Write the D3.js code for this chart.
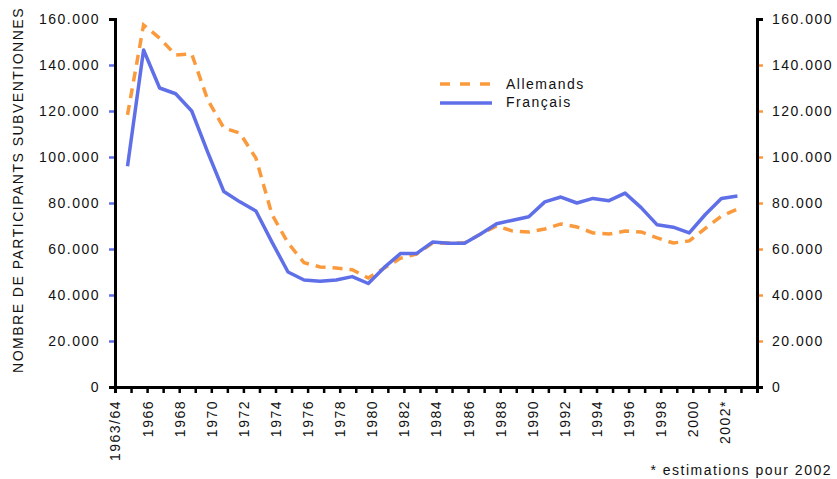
<!DOCTYPE html>
<html>
<head>
<meta charset="utf-8">
<script src="https://cdn.jsdelivr.net/npm/d3@7"></script>
<style>
  body { margin: 0; background: #fff; }
  text { font-family: "Liberation Sans", Arial, sans-serif; font-size: 14px; letter-spacing: 1.5px; fill: #111; }
</style>
</head>
<body>
<div class="canvas"></div>
<script>
// data: one value per year, 1963/64 .. 2002 (2002 = estimate)
const years = d3.range(1964, 2003);
const allemands = [118300, 157400, 151700, 144300, 144800, 124800, 112600, 110400, 99500, 75000,
    62600, 54000, 52200, 51700, 51000, 47400, 51700, 56000, 57800, 62600,
    62600, 62600, 66500, 70000, 67800, 67400, 68700, 70900, 69600, 67000,
    66500, 67800, 67400, 64800, 62600, 63500, 69000, 74300, 77400];
const francais = [96000, 146500, 130000, 127500, 120000, 102000, 85000, 80500, 76500, 63000,
    50000, 46500, 46000, 46500, 48000, 45000, 52000, 58000, 58000, 63000,
    62500, 62500, 66500, 71000, 72500, 74000, 80500, 82600, 80000, 82000,
    81000, 84300, 78000, 70500, 69500, 67000, 75000, 82000, 83000];
const xLabels = ['1963/64', '1966', '1968', '1970', '1972', '1974', '1976', '1978', '1980', '1982',
    '1984', '1986', '1988', '1990', '1992', '1994', '1996', '1998', '2000', '2002*'];
const yTicks = [0, 20000, 40000, 60000, 80000, 100000, 120000, 140000, 160000];

const blue = '#5f6fe8';
const orange = '#fb9a3c';

const svg = d3.select('.canvas')
    .append('svg')
        .attr('width', 837)
        .attr('height', 479);

const plot = {left: 115, right: 757, top: 19, bottom: 387};

// scales: one tick per year, points sit a bit right of their tick
const x = d3.scaleLinear().domain([0, 40]).range([plot.left, plot.right]);
const y = d3.scaleLinear().domain([0, 160000]).range([plot.bottom, plot.top]);
const offset = 0.78;

const fmt = d => d === 0 ? '0' : d3.format(',')(d).replace(/,/g, '.');

// axes
const yLeft = svg.append('g')
    .attr('transform', `translate(${plot.left}, 0)`)
    .call(d3.axisLeft(y).tickValues(yTicks).tickSize(6).tickPadding(9).tickFormat(fmt));
const yRight = svg.append('g')
    .attr('transform', `translate(${plot.right}, 0)`)
    .call(d3.axisRight(y).tickValues(yTicks).tickSize(6).tickPadding(9).tickFormat(fmt));
const xAxis = svg.append('g')
    .attr('transform', `translate(0, ${plot.bottom})`)
    .call(d3.axisBottom(x).tickValues(d3.range(0, 41)).tickSize(6)
        .tickFormat(i => i % 2 === 0 && xLabels[i / 2] ? xLabels[i / 2] : ''));

[yLeft, yRight, xAxis].forEach(g => {
    g.attr('font-size', null).attr('font-family', null);
    g.select('.domain').attr('stroke', '#000').attr('stroke-width', 3);
});
yLeft.selectAll('.tick line').attr('stroke', blue).attr('stroke-width', 2.5);
yRight.selectAll('.tick line').attr('stroke', orange).attr('stroke-width', 2.5);
xAxis.selectAll('.tick line').attr('stroke', '#000').attr('stroke-width', 2.5);
[yLeft, yRight, xAxis].forEach(g => g.select('.domain').raise());

xAxis.selectAll('text')
    .attr('transform', 'rotate(-90)')
    .attr('text-anchor', 'end')
    .attr('x', -13)
    .attr('y', 0)
    .attr('dy', '0.35em');

// lines
const line = d3.line()
    .x((d, i) => x(i + offset))
    .y(d => y(d));

svg.append('path')
    .datum(allemands)
    .attr('fill', 'none')
    .attr('stroke', orange)
    .attr('stroke-width', 3.5)
    .attr('stroke-dasharray', '10,7')
    .attr('d', line);

svg.append('path')
    .datum(francais)
    .attr('fill', 'none')
    .attr('stroke', blue)
    .attr('stroke-width', 3.5)
    .attr('stroke-linejoin', 'round')
    .attr('d', line);

// legend
const legend = svg.append('g');
legend.append('line')
    .attr('x1', 440).attr('x2', 492).attr('y1', 84).attr('y2', 84)
    .attr('stroke', orange).attr('stroke-width', 3.5).attr('stroke-dasharray', '10,10');
legend.append('line')
    .attr('x1', 440).attr('x2', 492).attr('y1', 103).attr('y2', 103)
    .attr('stroke', blue).attr('stroke-width', 3.5);
legend.append('text').attr('x', 506).attr('y', 89).text('Allemands');
legend.append('text').attr('x', 506).attr('y', 107).text('Français');

// titles
svg.append('text')
    .attr('transform', 'translate(23, 190) rotate(-90)')
    .attr('text-anchor', 'middle')
    .text('NOMBRE DE PARTICIPANTS SUBVENTIONNES');

svg.append('text')
    .attr('x', 832)
    .attr('y', 475)
    .attr('text-anchor', 'end')
    .text('* estimations pour 2002');
</script>
</body>
</html>
